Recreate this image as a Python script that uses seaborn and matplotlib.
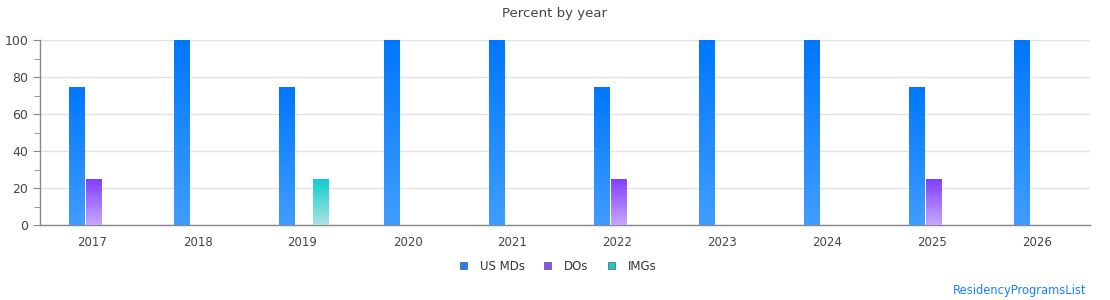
import numpy as np
import pandas as pd
import matplotlib
matplotlib.use('Agg')
import matplotlib.pyplot as plt
import seaborn as sns
from matplotlib.colors import LinearSegmentedColormap
from matplotlib.ticker import MultipleLocator

# 数据
years = ['2017', '2018', '2019', '2020', '2021', '2022', '2023', '2024', '2025', '2026']
us_mds = [75, 100, 75, 100, 100, 75, 100, 100, 75, 100]
dos = [25, 0, 0, 0, 0, 25, 0, 0, 25, 0]
imgs = [0, 0, 25, 0, 0, 0, 0, 0, 0, 0]
groups = ['US MDs', 'DOs', 'IMGs']

df = pd.DataFrame({
    'year': years * 3,
    'group': [g for g in groups for _ in years],
    'pct': us_mds + dos + imgs,
})

legend_colors = {'US MDs': '#1a80ff', 'DOs': '#8a50ff', 'IMGs': '#1acbc8'}
# 渐变色：顶部 -> 底部
grad_colors = {
    'US MDs': ('#0077ff', '#409dff'),
    'DOs': ('#8040ff', '#c6a6ff'),
    'IMGs': ('#10cccc', '#ace4e4'),
}

sns.set_style('white')
plt.rcParams['font.family'] = ['DejaVu Sans']

fig = plt.figure(figsize=(11.1, 3.0), dpi=100)
ax = fig.add_axes([40 / 1110, 0.25, 1050 / 1110, 185 / 300])

sns.barplot(data=df, x='year', y='pct', hue='group', hue_order=groups,
            palette=legend_colors, width=0.486, gap=0.08, ax=ax, legend=False,
            saturation=1, zorder=2)

# 每个柱子画成竖向渐变（组略微偏右）
shift = 0.01
for container, g in zip(ax.containers, groups):
    cmap = LinearSegmentedColormap.from_list(g, [grad_colors[g][1], grad_colors[g][0]])
    for p in container.patches:
        h = p.get_height()
        p.set_visible(False)
        if h <= 0:
            continue
        x0 = p.get_x() + shift
        w = p.get_width()
        grad = np.linspace(0, 1, 100).reshape(-1, 1)
        ax.imshow(grad, extent=(x0, x0 + w, 0, h - 0.5), origin='lower', cmap=cmap,
                  aspect='auto', interpolation='nearest', zorder=3)
ax.set_aspect('auto')
ax.set_xlim(-0.5, len(years) - 0.5)
ax.set_ylim(0, 100)

# 网格与坐标轴
ax.yaxis.set_major_locator(MultipleLocator(20))
ax.yaxis.set_minor_locator(MultipleLocator(10))
ax.grid(True, which='major', axis='y', color='#e2e2e2', linewidth=1, zorder=0)
ax.set_axisbelow(True)
for s in ['top', 'right']:
    ax.spines[s].set_visible(False)
for s in ['left', 'bottom']:
    ax.spines[s].set_color('#888888')
    ax.spines[s].set_linewidth(1)
ax.tick_params(axis='y', which='major', length=5, color='#888888', labelsize=9,
               labelcolor='#444444', left=True)
ax.tick_params(axis='y', which='minor', length=4, color='#888888', left=True)
ax.tick_params(axis='x', length=0, labelsize=8.5, labelcolor='#444444', pad=8)
ax.set_xlabel('')
ax.set_ylabel('')

fig.text(0.5, 0.955, 'Percent by year', ha='center', va='center',
         fontsize=9.5, color='#444444')

# 图例
handles = [plt.Rectangle((0, 0), 1, 1, facecolor=legend_colors[g],
                         edgecolor='#555555', linewidth=0.5) for g in groups]
fig.legend(handles, groups, loc='center', bbox_to_anchor=(0.503, 0.113), ncol=3,
           frameon=False, fontsize=8.5, handlelength=0.6, handleheight=0.6,
           handletextpad=1.1, columnspacing=1.6, labelcolor='#333333')

fig.text(0.979, 0.033, 'ResidencyProgramsList', ha='right', va='center',
         fontsize=8.3, color='#1a80ff')

fig.savefig('out.png', dpi=100)
